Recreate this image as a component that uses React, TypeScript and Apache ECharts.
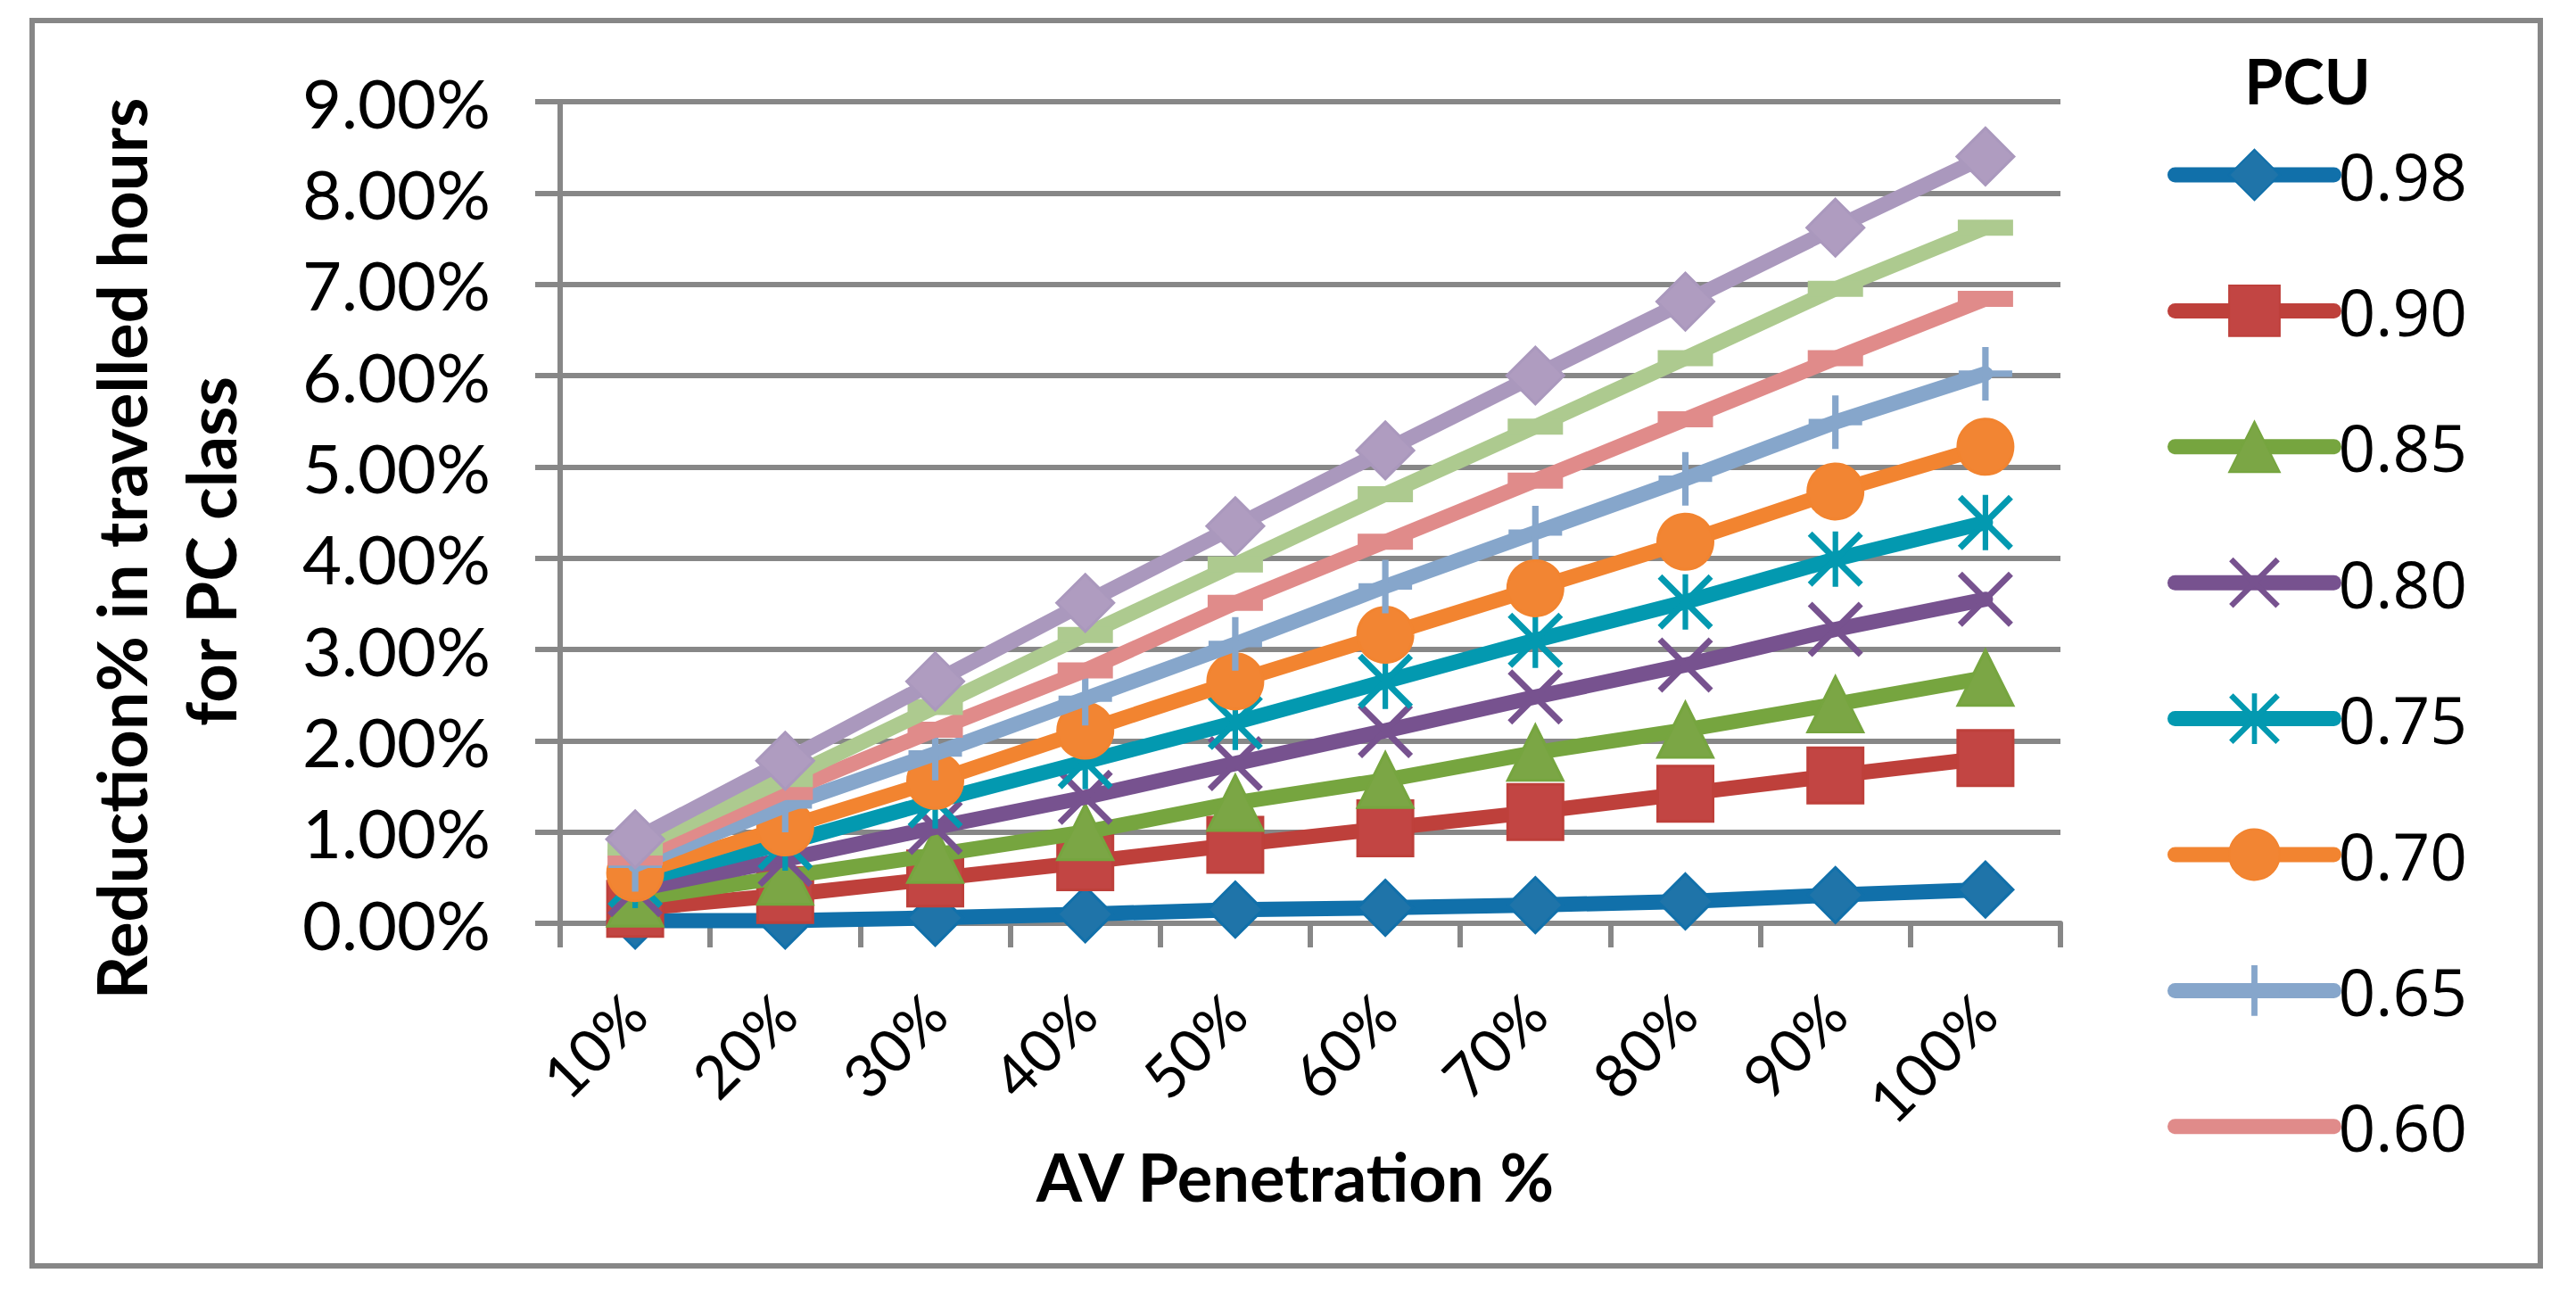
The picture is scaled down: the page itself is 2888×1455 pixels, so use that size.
import React, { useEffect, useRef } from 'react';
import * as echarts from 'echarts';

// AV penetration levels on the category axis
const categories = ['10%', '20%', '30%', '40%', '50%', '60%', '70%', '80%', '90%', '100%'];

// PCU values, one line each (the last two are plotted but not listed in the legend)
const pcuLabels = ['0.98', '0.90', '0.85', '0.80', '0.75', '0.70', '0.65', '0.60', '0.55', '0.50'];
const legendLabels = pcuLabels.slice(0, 8);

// Reduction % in travelled hours for the PC class, in percent
const pcu098 = [0.03, 0.03, 0.06, 0.10, 0.15, 0.17, 0.20, 0.24, 0.31, 0.37];
const pcu090 = [0.16, 0.31, 0.49, 0.67, 0.86, 1.04, 1.22, 1.42, 1.62, 1.81];
const pcu085 = [0.27, 0.51, 0.75, 1.00, 1.32, 1.57, 1.87, 2.12, 2.40, 2.69];
const pcu080 = [0.37, 0.70, 1.05, 1.38, 1.75, 2.11, 2.48, 2.83, 3.22, 3.55];
const pcu075 = [0.47, 0.88, 1.34, 1.77, 2.20, 2.65, 3.10, 3.52, 3.99, 4.39];
const pcu070 = [0.55, 1.05, 1.56, 2.11, 2.65, 3.16, 3.67, 4.18, 4.73, 5.22];
const pcu065 = [0.64, 1.29, 1.86, 2.46, 3.06, 3.69, 4.28, 4.87, 5.49, 6.02];
const pcu060 = [0.72, 1.44, 2.12, 2.77, 3.51, 4.18, 4.85, 5.52, 6.19, 6.84];
const pcu055 = [0.83, 1.58, 2.37, 3.16, 3.93, 4.70, 5.44, 6.19, 6.95, 7.62];
const pcu050 = [0.92, 1.78, 2.65, 3.51, 4.35, 5.18, 6.00, 6.81, 7.62, 8.40];

const seriesValues = [pcu098, pcu090, pcu085, pcu080, pcu075, pcu070, pcu065, pcu060, pcu055, pcu050];

// Value axis range, in percent
const yMin = 0;
const yMax = 9;
const yStep = 1;

// Styling
const lineColors = ['#1170aa', '#be403b', '#76a53f', '#77528f', '#0399b0', '#f28430', '#86a6cb', '#e08b8a', '#adca8f', '#aa98bd'];
const markerFills = ['#1f74a9', '#c24543', '#7ba645', '#77528f', '#0399b0', '#f28533', '#86a6cb', '#e08b8a', '#adca8f', '#af9cc0'];

const X_MARK = 'path://M0 8L8 0L100 92L92 100ZM92 0L100 8L8 100L0 92Z';
const STAR_MARK = 'path://M0 8L8 0L100 92L92 100ZM92 0L100 8L8 100L0 92ZM45 0L55 0L55 100L45 100Z';
const PLUS_MARK = 'path://M44 0L56 0L56 100L44 100ZM0 44L100 44L100 56L0 56Z';

const markerSymbols = ['diamond', 'rect', 'triangle', X_MARK, STAR_MARK, 'circle', PLUS_MARK, 'rect', 'rect', 'diamond'];
const markerSizes: (number | number[])[] = [62, 62, 62, 62, 62, 62, 60, [62, 18], [62, 18], 64];
const markerBorders = [3, 3, 3, 0, 0, 3, 0, 0, 0, 3];

const AXIS_GRAY = '#878787';
const TICK_FONT = 'Lato, "Open Sans", sans-serif';

export default function App() {
  const ref = useRef<HTMLDivElement>(null);

  useEffect(() => {
    if (!ref.current) return;
    const chart = echarts.init(ref.current, undefined, { renderer: 'svg' });

    const series = pcuLabels.map((name, i) => ({
      name,
      type: 'line',
      data: seriesValues[i],
      z: 2 + i,
      clip: false,
      symbol: markerSymbols[i],
      symbolSize: markerSizes[i],
      showSymbol: true,
      lineStyle: { color: lineColors[i], width: 17, cap: 'round', join: 'round' },
      itemStyle: {
        color: markerFills[i],
        borderColor: lineColors[i],
        borderWidth: markerBorders[i],
      },
      emphasis: { disabled: true },
    }));

    chart.setOption({
      animation: false,
      backgroundColor: '#ffffff',
      grid: { left: 628, top: 114, width: 1682, height: 921, containLabel: false },
      xAxis: {
        type: 'category',
        data: categories,
        boundaryGap: true,
        axisLine: { show: true, lineStyle: { color: AXIS_GRAY, width: 6 } },
        axisTick: { show: true, length: 27, lineStyle: { color: AXIS_GRAY, width: 6 } },
        axisLabel: {
          interval: 0,
          rotate: 45,
          margin: 90,
          fontSize: 67,
          fontFamily: TICK_FONT,
          color: '#000000',
        },
        splitLine: { show: false },
      },
      yAxis: {
        type: 'value',
        min: yMin,
        max: yMax,
        interval: yStep,
        axisLine: { show: true, lineStyle: { color: AXIS_GRAY, width: 6 } },
        axisTick: { show: true, length: 28, lineStyle: { color: AXIS_GRAY, width: 6 } },
        axisLabel: {
          margin: 78,
          fontSize: 76,
          fontFamily: TICK_FONT,
          color: '#000000',
          formatter: (v: number) => v.toFixed(2) + '%',
        },
        splitLine: { show: true, lineStyle: { color: AXIS_GRAY, width: 6 } },
      },
      legend: {
        data: legendLabels.map((name) =>
          name === '0.60' ? { name, itemStyle: { opacity: 0 } } : { name }
        ),
        orient: 'vertical',
        left: 2430,
        top: 159.5,
        padding: 0,
        itemWidth: 178,
        itemHeight: 71,
        itemGap: 79.4,
        selectedMode: false,
        lineStyle: { width: 17, cap: 'round' },
        textStyle: {
          fontSize: 73,
          lineHeight: 71,
          fontFamily: '"Open Sans", sans-serif',
          color: '#000000',
        },
      },
      graphic: [
        {
          type: 'rect',
          silent: true,
          shape: { x: 36, y: 23, width: 2812, height: 1396 },
          style: { fill: 'none', stroke: AXIS_GRAY, lineWidth: 6 },
        },
        {
          type: 'text',
          x: 135,
          y: 615,
          rotation: Math.PI / 2,
          style: {
            text: 'Reduction% in travelled hours',
            font: 'bold 76px Lato, sans-serif',
            fill: '#000000',
            align: 'center',
            verticalAlign: 'middle',
            textAlign: 'center',
            textVerticalAlign: 'middle',
          },
        },
        {
          type: 'text',
          x: 235,
          y: 618,
          rotation: Math.PI / 2,
          style: {
            text: 'for PC class',
            font: 'bold 76px Lato, sans-serif',
            fill: '#000000',
            align: 'center',
            verticalAlign: 'middle',
            textAlign: 'center',
            textVerticalAlign: 'middle',
          },
        },
        {
          type: 'text',
          x: 1452,
          y: 1318,
          style: {
            text: 'AV Penetration %',
            font: 'bold 74px Lato, sans-serif',
            fill: '#000000',
            align: 'center',
            verticalAlign: 'middle',
            textAlign: 'center',
            textVerticalAlign: 'middle',
          },
        },
        {
          type: 'text',
          x: 2587,
          y: 90,
          style: {
            text: 'PCU',
            font: 'bold 70px Lato, sans-serif',
            fill: '#000000',
            align: 'center',
            verticalAlign: 'middle',
            textAlign: 'center',
            textVerticalAlign: 'middle',
          },
        },
      ],
      series,
    });

    return () => chart.dispose();
  }, []);

  return (
    <div
      ref={ref}
      style={{ position: 'fixed', left: 0, top: 0, width: 2888, height: 1455, background: '#ffffff' }}
    />
  );
}
